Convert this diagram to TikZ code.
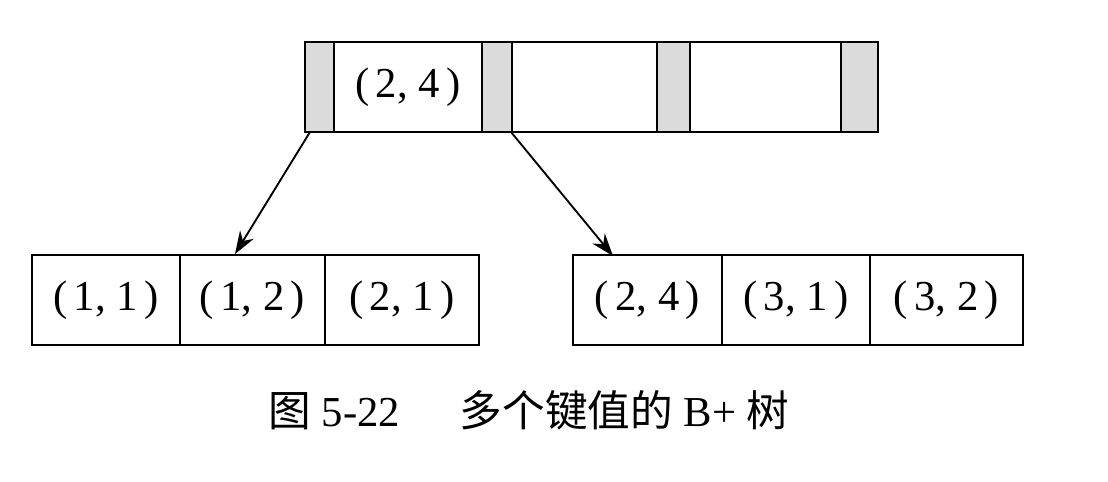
\documentclass[tikz,border=0pt]{standalone}
\usepackage{fontspec}
\setmainfont{Liberation Serif}
\newfontfamily\cjk{Noto Sans CJK SC}
\usetikzlibrary{arrows.meta}
\newcommand{\pairlab}[2]{(\hspace{0.15em}#1,\hspace{0.25em}#2\hspace{0.15em})}
\begin{document}
\begin{tikzpicture}[x=0.75pt,y=-0.75pt,
  cell/.style={draw=black,line width=1.4pt,rectangle,inner sep=0pt,
    minimum height=68pt,font=\fontsize{32}{34}\selectfont},
  ptr/.style={cell,fill=gray!28},
  link/.style={line width=1.4pt,-{Stealth[length=17pt,width=12pt]}}]
\useasboundingbox[fill=white] (0,0) rectangle (1108,482);
% root node: pointer slots (grey) alternating with key slots
\node[ptr,minimum width=21.75pt] (g1) at (319.5,87) {};
\node[cell,minimum width=111pt]  (k1) at (408,87) {\pairlab{2}{4}};
\node[ptr,minimum width=22.5pt]  (g2) at (497,87) {};
\node[cell,minimum width=108.75pt] (k2) at (584.5,87) {};
\node[ptr,minimum width=24.75pt] (g3) at (674,87) {};
\node[cell,minimum width=113.25pt] (k3) at (765.5,87) {};
\node[ptr,minimum width=27.75pt] (g4) at (859.5,87) {};
% left leaf
\node[cell,minimum width=111pt]   (l1) at (106,300) {\pairlab{1}{1}};
\node[cell,minimum width=108.75pt] (l2) at (252.5,300) {\pairlab{1}{2}};
\node[cell,minimum width=115.5pt] (l3) at (402,300) {\pairlab{2}{1}};
% right leaf
\node[cell,minimum width=111.75pt] (r1) at (647.5,300) {\pairlab{2}{4}};
\node[cell,minimum width=111pt]   (r2) at (796,300) {\pairlab{3}{1}};
\node[cell,minimum width=114.75pt] (r3) at (946.5,300) {\pairlab{3}{2}};
% pointer arrows
\coordinate (s1) at (310,132);
\coordinate (t1) at (235,254);
\coordinate (s2) at (511,132);
\coordinate (t2) at (613,256);
\draw[link] (s1) -- (t1);
\draw[link] (s2) -- (t2);
% caption
\node[font=\fontsize{32}{34}\selectfont,inner sep=0pt] (cap) at (529,410)
  {{\cjk 图} 5-22\hspace{1.4em}{\cjk 多个键值的} B+ {\cjk 树}};
\end{tikzpicture}
\end{document}
